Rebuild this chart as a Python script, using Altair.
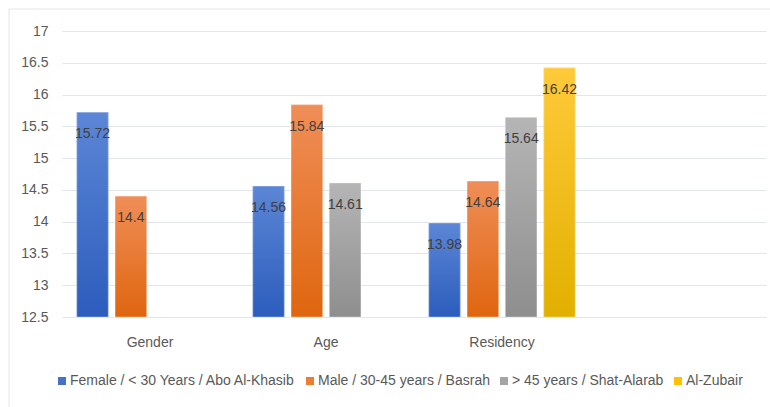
import altair as alt
import pandas as pd

# ---- data ----
categories = ["Gender", "Age", "Residency", "_blank"]
series = [
    "Female / < 30 Years / Abo Al-Khasib",
    "Male / 30-45 years / Basrah",
    "> 45 years / Shat-Alarab",
    "Al-Zubair",
]
row_category = ["Gender", "Gender", "Age", "Age", "Age",
                "Residency", "Residency", "Residency", "Residency"]
row_series = [series[0], series[1], series[0], series[1], series[2],
              series[0], series[1], series[2], series[3]]
row_value = [15.72, 14.4, 14.56, 15.84, 14.61, 13.98, 14.64, 15.64, 16.42]
y_ticks = [12.5, 13, 13.5, 14, 14.5, 15, 15.5, 16, 16.5, 17]

solid_colors = ["#4472C4", "#ED7D31", "#A5A5A5", "#FFC000"]
grad_top = ["#5C86D6", "#F08E58", "#B5B5B5", "#FFCA3A"]
grad_bottom = ["#2C5DBD", "#DF660F", "#8E8E8E", "#E2B000"]

df = pd.DataFrame({"category": row_category, "series": row_series, "value": row_value})

FONT = "Liberation Sans"

x_enc = alt.X("category:N", scale=alt.Scale(domain=categories, paddingInner=0, paddingOuter=0),
              axis=alt.Axis(title=None, domain=False, ticks=False, labelAngle=0,
                            labelFontSize=14, labelColor="#595959", labelPadding=18,
                            labelFont=FONT,
                            labelExpr="datum.value == '_blank' ? '' : datum.value"))
xo_enc = alt.XOffset("series:N", scale=alt.Scale(domain=series, paddingInner=0.178, paddingOuter=0.386))
y_enc = alt.Y("value:Q", scale=alt.Scale(domain=[12.5, 17], zero=False, nice=False),
              axis=alt.Axis(title=None, values=y_ticks, format="~g", domain=False, ticks=False,
                            labelFontSize=14, labelColor="#595959", labelPadding=14,
                            labelFont=FONT, gridColor="#E2E5EB", gridWidth=1.2))

base = alt.Chart(df)

legend_layer = base.mark_bar().encode(
    x=x_enc, xOffset=xo_enc, y=y_enc, y2=alt.datum(12.5),
    color=alt.Color("series:N", scale=alt.Scale(domain=series, range=solid_colors),
                    legend=alt.Legend(title=None, orient="none", direction="horizontal",
                                      legendX=-7, legendY=343, symbolType="square",
                                      symbolSize=64, symbolStrokeWidth=0,
                                      labelFontSize=14, labelColor="#595959", labelFont=FONT,
                                      labelLimit=0, labelOffset=1, columnPadding=7, padding=0)),
)

layers = [legend_layer]
for i, s in enumerate(series):
    grad = alt.LinearGradient(
        gradient="linear",
        stops=[alt.GradientStop(color=grad_top[i], offset=0),
               alt.GradientStop(color=grad_bottom[i], offset=1)],
        x1=0, x2=0, y1=0, y2=1,
    )
    layers.append(
        base.transform_filter(alt.datum.series == s)
        .mark_bar(fill=grad, stroke="#FFFFFF", strokeOpacity=0.35, strokeWidth=1)
        .encode(x=x_enc, xOffset=xo_enc, y=y_enc, y2=alt.datum(12.5))
    )

labels = base.mark_text(dy=22, fontSize=14, color="#404040", font=FONT,
                        align="center", baseline="middle").encode(
    x=x_enc, xOffset=xo_enc, y=y_enc, text=alt.Text("value:Q", format="~g"))
layers.append(labels)

frame = alt.Chart(alt.Data(values=[{"a": 1}])).mark_rect(
    fill="transparent", stroke="#E6E6E6", strokeWidth=1).encode(
    x=alt.value(-53), x2=alt.value(800), y=alt.value(-22), y2=alt.value(450))

chart = alt.layer(frame, *layers).properties(
    width=704, height=286,
    autosize=alt.AutoSizeParams(type="none"),
    padding={"left": 62, "top": 31, "right": 4, "bottom": 90},
    background="white",
).configure_view(stroke=None)

chart.save("out.html", embed_options={"renderer": "svg", "actions": False})
